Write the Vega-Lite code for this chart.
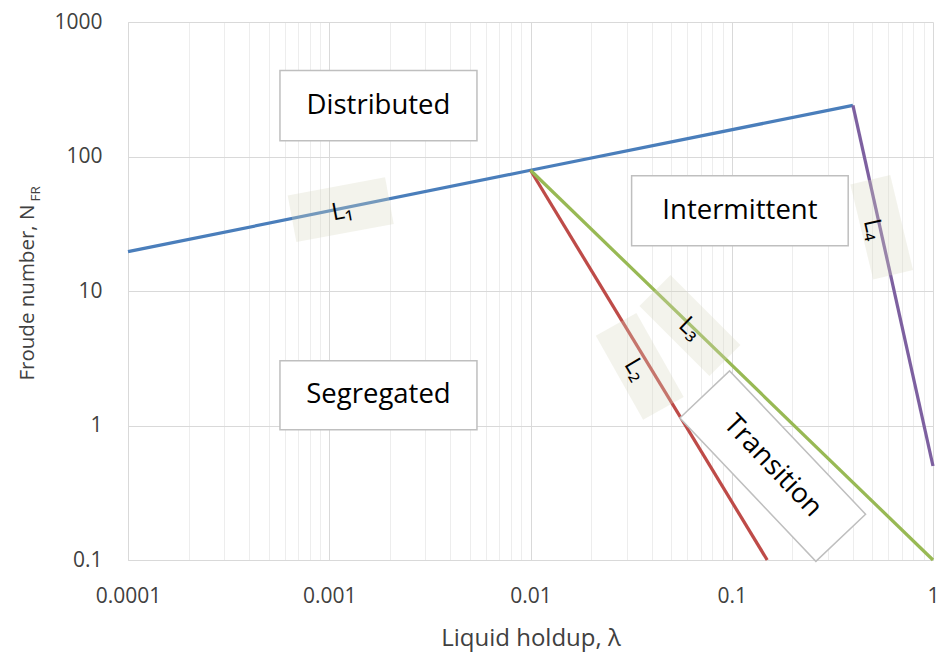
{
  "$schema": "https://vega.github.io/schema/vega-lite/v6.json",
  "width": 805,
  "height": 538,
  "autosize": {"type": "none"},
  "padding": {"left": 128, "top": 22, "right": 10, "bottom": 94},
  "background": "white",
  "config": {
    "view": {"stroke": null},
    "font": "Open Sans",
    "axis": {
      "labelFont": "Open Sans",
      "titleFont": "Open Sans",
      "labelColor": "#404040",
      "titleColor": "#404040",
      "titleFontWeight": "normal",
      "ticks": false,
      "tickSize": 0,
      "domainColor": "#D9D9D9",
      "labelFlush": false,
      "labelOverlap": false,
      "labelBound": false
    }
  },
  "datasets": {
    "boundaries": [
      {"line": "L1", "x": 0.0001, "y": 19.6},
      {"line": "L1", "x": 0.01, "y": 79},
      {"line": "L1", "x": 0.4, "y": 240},
      {"line": "L2", "x": 0.01, "y": 79},
      {"line": "L2", "x": 0.15, "y": 0.1},
      {"line": "L3", "x": 0.01, "y": 79},
      {"line": "L3", "x": 1, "y": 0.1},
      {"line": "L4", "x": 0.4, "y": 240},
      {"line": "L4", "x": 1, "y": 0.5}
    ],
    "tags": [
      {"tag": "L1", "text": "L₁", "box_x": 0.00114, "box_y": 40.2, "text_x": 0.00116, "text_y": 38.9},
      {"tag": "L2", "text": "L₂", "box_x": 0.0349, "box_y": 2.75, "text_x": 0.0331, "text_y": 2.6},
      {"tag": "L3", "text": "L₃", "box_x": 0.062, "box_y": 5.54, "text_x": 0.062, "text_y": 5.24},
      {"tag": "L4", "text": "L₄", "box_x": 0.556, "box_y": 29.8, "text_x": 0.5035, "text_y": 28.6}
    ],
    "regions": [
      {"region": "Distributed", "x_lo": 0.000569, "x_hi": 0.00542, "y_lo": 131, "y_hi": 436, "x_mid": 0.001756, "y_mid": 239},
      {"region": "Segregated", "x_lo": 0.000569, "x_hi": 0.00542, "y_lo": 0.931, "y_hi": 3.03, "x_mid": 0.001756, "y_mid": 1.68},
      {"region": "Intermittent", "x_lo": 0.0318, "x_hi": 0.379, "y_lo": 21.7, "y_hi": 72, "x_mid": 0.1098, "y_mid": 39.5}
    ],
    "transition": [
      {"region": "Transition", "x": 0.1598, "y": 0.499}
    ]
  },
  "layer": [
    {
      "layer": [
        {
          "data": {"name": "boundaries"},
          "mark": {"type": "line", "strokeWidth": 3.25, "strokeCap": "butt", "strokeJoin": "miter"},
          "encoding": {
            "x": {
              "field": "x",
              "type": "quantitative",
              "scale": {"type": "log", "domain": [0.0001, 1], "nice": false},
              "axis": {
                "title": "Liquid holdup, λ",
                "titleFontSize": 24,
                "titleBaseline": "alphabetic",
                "titleY": 85,
                "labelFontSize": 21,
                "labelPadding": 25,
                "format": "~g",
                "values": [0.0001, 0.0002, 0.0003, 0.0004, 0.0005, 0.0006, 0.0007, 0.0008, 0.0009,
                           0.001, 0.002, 0.003, 0.004, 0.005, 0.006, 0.007, 0.008, 0.009,
                           0.01, 0.02, 0.03, 0.04, 0.05, 0.06, 0.07, 0.08, 0.09,
                           0.1, 0.2, 0.3, 0.4, 0.5, 0.6, 0.7, 0.8, 0.9, 1],
                "labelExpr": "indexof([0.0001, 0.001, 0.01, 0.1, 1], datum.value) >= 0 ? datum.label : ''",
                "gridColor": {
                  "condition": {"test": "indexof([0.0001, 0.001, 0.01, 0.1, 1], datum.value) >= 0", "value": "#D9D9D9"},
                  "value": "#EDEDED"
                }
              }
            },
            "y": {
              "field": "y",
              "type": "quantitative",
              "scale": {"type": "log", "domain": [0.1, 1000], "nice": false},
              "axis": {
                "values": [0.1, 1, 10, 100, 1000],
                "format": "~g",
                "labelFontSize": 21,
                "labelPadding": 26,
                "gridColor": "#D9D9D9",
                "title": "Froude number, N",
                "titleFontSize": 20.5,
                "titleAngle": -90,
                "titleAlign": "left",
                "titleBaseline": "alphabetic",
                "titleX": -95,
                "titleY": 358
              }
            },
            "color": {
              "field": "line",
              "type": "nominal",
              "legend": null,
              "scale": {"domain": ["L1", "L2", "L3", "L4"], "range": ["#4A7EBB", "#BE4B48", "#98B954", "#7D60A0"]}
            }
          }
        },
        {
          "data": {"name": "tags"},
          "transform": [{"filter": "datum.tag == 'L1'"}],
          "layer": [
            {
              "mark": {"type": "point", "shape": "M-49.5,-23.75H49.5V23.75H-49.5Z", "size": 4, "angle": -10.5, "filled": true, "color": "#D8D8C0", "opacity": 0.3, "strokeWidth": 0},
              "encoding": {"x": {"field": "box_x", "type": "quantitative"}, "y": {"field": "box_y", "type": "quantitative"}}
            },
            {
              "mark": {"type": "text", "angle": -10.5, "fontSize": 24, "color": "#000000", "font": "Open Sans"},
              "encoding": {"x": {"field": "text_x", "type": "quantitative"}, "y": {"field": "text_y", "type": "quantitative"}, "text": {"field": "text"}}
            }
          ]
        },
        {
          "data": {"name": "tags"},
          "transform": [{"filter": "datum.tag == 'L2'"}],
          "layer": [
            {
              "mark": {"type": "point", "shape": "M-48.2,-23.3H48.2V23.3H-48.2Z", "size": 4, "angle": 60.6, "filled": true, "color": "#D8D8C0", "opacity": 0.3, "strokeWidth": 0},
              "encoding": {"x": {"field": "box_x", "type": "quantitative"}, "y": {"field": "box_y", "type": "quantitative"}}
            },
            {
              "mark": {"type": "text", "angle": 59, "fontSize": 24, "color": "#000000", "font": "Open Sans"},
              "encoding": {"x": {"field": "text_x", "type": "quantitative"}, "y": {"field": "text_y", "type": "quantitative"}, "text": {"field": "text"}}
            }
          ]
        },
        {
          "data": {"name": "tags"},
          "transform": [{"filter": "datum.tag == 'L3'"}],
          "layer": [
            {
              "mark": {"type": "point", "shape": "M-49.5,-22H49.5V22H-49.5Z", "size": 4, "angle": 45, "filled": true, "color": "#D8D8C0", "opacity": 0.3, "strokeWidth": 0},
              "encoding": {"x": {"field": "box_x", "type": "quantitative"}, "y": {"field": "box_y", "type": "quantitative"}}
            },
            {
              "mark": {"type": "text", "angle": 44, "fontSize": 24, "color": "#000000", "font": "Open Sans"},
              "encoding": {"x": {"field": "text_x", "type": "quantitative"}, "y": {"field": "text_y", "type": "quantitative"}, "text": {"field": "text"}}
            }
          ]
        },
        {
          "data": {"name": "tags"},
          "transform": [{"filter": "datum.tag == 'L4'"}],
          "layer": [
            {
              "mark": {"type": "point", "shape": "M-48.9,-20.5H48.9V20.5H-48.9Z", "size": 4, "angle": 76.5, "filled": true, "color": "#D8D8C0", "opacity": 0.3, "strokeWidth": 0},
              "encoding": {"x": {"field": "box_x", "type": "quantitative"}, "y": {"field": "box_y", "type": "quantitative"}}
            },
            {
              "mark": {"type": "text", "angle": 77, "fontSize": 24, "color": "#000000", "font": "Open Sans"},
              "encoding": {"x": {"field": "text_x", "type": "quantitative"}, "y": {"field": "text_y", "type": "quantitative"}, "text": {"field": "text"}}
            }
          ]
        },
        {
          "data": {"name": "transition"},
          "layer": [
            {
              "mark": {"type": "point", "shape": "M-98.8,-34.25H98.8V34.25H-98.8Z", "size": 4, "angle": 46.5, "filled": true, "fill": "#FFFFFF", "stroke": "#BFBFBF", "strokeWidth": 1.5, "opacity": 1},
              "encoding": {"x": {"field": "x", "type": "quantitative"}, "y": {"field": "y", "type": "quantitative"}}
            },
            {
              "mark": {"type": "text", "angle": 46.5, "fontSize": 27.5, "color": "#000000", "font": "Open Sans"},
              "encoding": {"x": {"field": "x", "type": "quantitative"}, "y": {"field": "y", "type": "quantitative"}, "text": {"field": "region"}}
            }
          ]
        }
      ]
    },
    {
      "data": {"name": "regions"},
      "layer": [
        {
          "mark": {"type": "rect", "fill": "#FFFFFF", "stroke": "#BFBFBF", "strokeWidth": 1.5},
          "encoding": {
            "x": {"field": "x_lo", "type": "quantitative"},
            "x2": {"field": "x_hi"},
            "y": {
              "field": "y_lo",
              "type": "quantitative",
              "scale": {"type": "log", "domain": [0.1, 1000], "nice": false},
              "axis": {
                "orient": "left",
                "grid": false,
                "labels": false,
                "domain": false,
                "title": "FR",
                "titleFontSize": 13.5,
                "titleAngle": -90,
                "titleAlign": "left",
                "titleBaseline": "alphabetic",
                "titleX": -89,
                "titleY": 179
              }
            },
            "y2": {"field": "y_hi"}
          }
        },
        {
          "mark": {"type": "text", "fontSize": 27.5, "color": "#000000", "font": "Open Sans"},
          "encoding": {
            "x": {"field": "x_mid", "type": "quantitative"},
            "y": {"field": "y_mid", "type": "quantitative"},
            "text": {"field": "region"}
          }
        }
      ]
    }
  ],
  "resolve": {"scale": {"y": "independent"}, "axis": {"y": "independent"}}
}
